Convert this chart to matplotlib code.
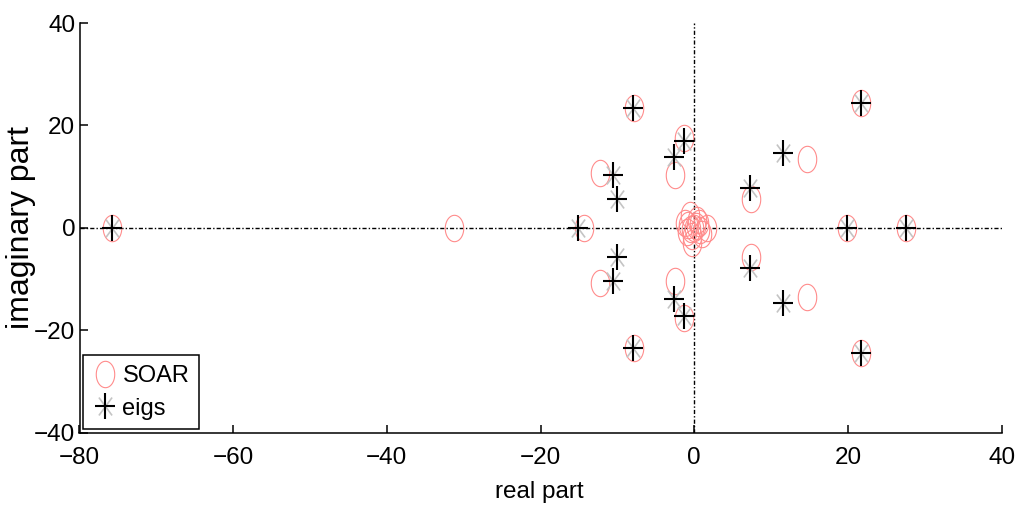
import numpy as np
import matplotlib
matplotlib.use("Agg")
import matplotlib.pyplot as plt
from matplotlib.path import Path

plt.rcParams['font.family'] = ['Liberation Sans', 'DejaVu Sans']

# eigenvalues from eigs (real, imaginary)
eigs_re = [-75.8, -15.1, -8.0, -8.0, -10.6, -10.6, -10.0, -10.0, -2.6, -2.6,
           -1.3, -1.3, 7.2, 7.2, 11.5, 11.5, 21.7, 21.7, 19.9, 27.5]
eigs_im = [0.0, 0.0, 23.5, -23.5, 10.3, -10.3, 5.7, -5.7, 13.9, -13.9,
           16.9, -17.2, 7.8, -7.8, 14.6, -14.6, 24.4, -24.4, 0.0, 0.0]

# Ritz values from SOAR
soar_re = [-75.8, -31.3, -14.4, -12.3, -12.3, -7.9, -7.9, -2.5, -2.5, -1.3, -1.3,
           7.4, 7.4, 14.6, 14.6, 21.7, 21.7, 19.9, 27.5,
           0.0, -0.8, 0.8, 0.3, -0.3, 1.7, -1.0, 0.6, -0.5, -0.3, -1.2, 1.0, 0.2, -0.4]
soar_im = [0.0, 0.0, 0.0, 10.8, -10.8, 23.5, -23.5, 10.4, -10.4, 17.6, -17.6,
           5.7, -5.7, 13.4, -13.6, 24.4, -24.4, 0.0, 0.0,
           0.0, 0.5, -0.5, 1.6, -1.6, 0.0, -0.9, 1.0, 2.5, -3.0, 1.0, -1.2, 0.3, -0.2]

xticks = [-80, -60, -40, -20, 0, 20, 40]
yticks = [-40, -20, 0, 20, 40]

# markers stretched vertically like the source image
t = np.linspace(0, 2 * np.pi, 60)
ellipse = Path(np.column_stack([0.7 * np.cos(t), np.sin(t)]))
plus = Path([(0, -1), (0, 1), (-0.74, 0), (0.74, 0)],
            [Path.MOVETO, Path.LINETO, Path.MOVETO, Path.LINETO])
cross = Path([(-0.735, -1), (0.735, 1), (-0.735, 1), (0.735, -1)],
             [Path.MOVETO, Path.LINETO, Path.MOVETO, Path.LINETO])

W, H = 1018, 507
fig = plt.figure(figsize=(W / 100, H / 100), dpi=100)
ax = fig.add_axes([79.5 / W, 1 - 432.7 / H, (1001.7 - 79.5) / W, (432.7 - 23) / H])

ax.axhline(0, color='black', lw=1.0, ls=(0, (3, 1.5, 1, 1.5)), zorder=1)
ax.axvline(0, color='black', lw=1.0, ls=(0, (3, 1.5, 1, 1.5)), zorder=1)

h_soar, = ax.plot(soar_re, soar_im, ls='none', marker=ellipse, ms=19,
                  mfc='none', mec='#ff8c8c', mew=0.8, zorder=2)
h_x, = ax.plot(eigs_re, eigs_im, ls='none', marker=cross, ms=12.9,
               mfc='none', mec='#c4c4c4', mew=1.2, zorder=3)
h_plus, = ax.plot(eigs_re, eigs_im, ls='none', marker=plus, ms=19,
                  mfc='none', mec='black', mew=1.5, zorder=4)

ax.set_xlim(-80, 40)
ax.set_ylim(-40, 40)
ax.set_xticks(xticks)
ax.set_yticks(yticks)
for s in ['top', 'right']:
    ax.spines[s].set_visible(False)
for s in ['left', 'bottom']:
    ax.spines[s].set_linewidth(1.1)
ax.tick_params(direction='in', length=6, width=1.1, labelsize=17.5)
ax.tick_params(axis='x', pad=10)
ax.tick_params(axis='y', pad=3)

fig.text(539 / W, 1 - 498 / H, 'real part', fontsize=17.5, ha='center', va='baseline')
fig.text(21 / W, 1 - 227 / H, 'imaginary part', fontsize=23, rotation=90,
         ha='center', va='center')

leg = ax.legend([h_soar, (h_x, h_plus)], ['SOAR', 'eigs'], loc='lower left',
                bbox_to_anchor=(83 / W, 1 - 429 / H), bbox_transform=fig.transFigure,
                borderaxespad=0, fontsize=17, handlelength=1.1, handletextpad=0.17,
                borderpad=0.4, labelspacing=0.45, fancybox=False, framealpha=1,
                edgecolor='black')
leg.get_frame().set_linewidth(1.1)

fig.savefig('out.png', dpi=100)
